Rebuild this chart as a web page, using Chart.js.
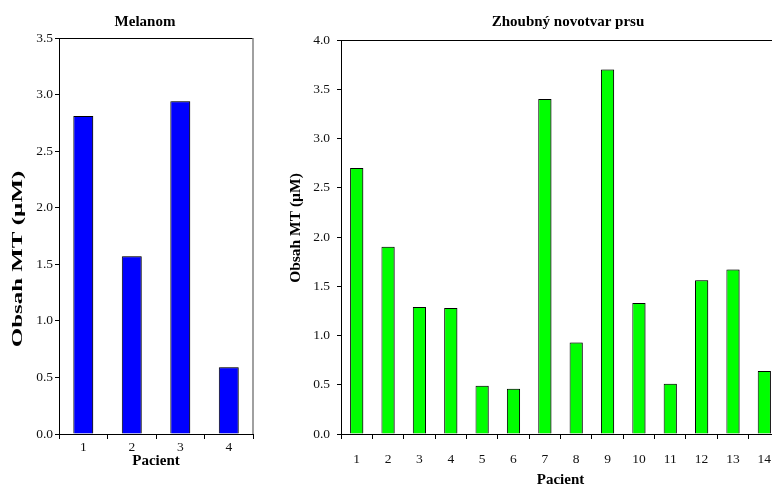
<!DOCTYPE html>
<html>
<head>
<meta charset="utf-8">
<script src="https://cdn.jsdelivr.net/npm/chart.js@4/dist/chart.umd.min.js"></script>
<style>
  html, body { margin: 0; padding: 0; background: #fff; }
  #stage { position: relative; width: 772px; height: 487px; overflow: hidden; background: #fff; }
  #melanomChart { position: absolute; left: 0; top: 0; }
  #prsuChart { position: absolute; left: 280px; top: 0; }
</style>
</head>
<body>
<div id="stage">
  <canvas id="melanomChart" width="290" height="487"></canvas>
  <canvas id="prsuChart" width="576" height="487"></canvas>
</div>
<script>
// data
const melanomPatients = ['1', '2', '3', '4'];
const melanomValues = [2.81, 1.57, 2.94, 0.59];
const melanomMax = 3.5;

const prsuPatients = ['1', '2', '3', '4', '5', '6', '7', '8', '9', '10', '11', '12', '13', '14'];
const prsuValues = [2.70, 1.90, 1.29, 1.28, 0.49, 0.46, 3.40, 0.93, 3.70, 1.33, 0.51, 1.56, 1.67, 0.64];
const prsuMax = 4.0;

const yStep = 0.5;
const serif = "'Liberation Serif', 'Times New Roman', serif";

// free-placed captions (chart title + rotated y-axis caption)
const captions = {
  id: 'captions',
  afterDraw(chart, args, opts){
    const ctx = chart.ctx;
    (opts.items || []).forEach(it => {
      ctx.save();
      ctx.translate(it.x, it.y);
      if(it.rotate) ctx.rotate(it.rotate);
      ctx.scale(it.stretch || 1, 1);
      ctx.font = `bold ${it.size}px ${serif}`;
      ctx.fillStyle = '#000';
      ctx.textAlign = 'center';
      ctx.textBaseline = 'middle';
      ctx.fillText(it.text, 0, 0);
      ctx.restore();
    });
  }
};

// top and right edge of the plot box
const plotFrame = {
  id: 'plotFrame',
  afterDatasetsDraw(chart){
    const {ctx, chartArea: a} = chart;
    ctx.save();
    ctx.lineWidth = 1;
    ctx.strokeStyle = '#000';
    ctx.beginPath();
    ctx.moveTo(a.left, a.top + 0.5);
    ctx.lineTo(a.right, a.top + 0.5);
    ctx.stroke();
    ctx.strokeStyle = '#808080';
    ctx.lineWidth = 1.5;
    ctx.beginPath();
    ctx.moveTo(a.right, a.top);
    ctx.lineTo(a.right, a.bottom);
    ctx.stroke();
    ctx.restore();
  }
};

// thin grey shadow on the right side of each bar
const barShadow = {
  id: 'barShadow',
  beforeDatasetsDraw(chart){
    const ctx = chart.ctx;
    ctx.save();
    ctx.shadowColor = 'rgba(0,0,0,0.35)';
    ctx.shadowOffsetX = 1.5;
    ctx.shadowOffsetY = 0;
    ctx.shadowBlur = 0;
  },
  afterDatasetsDraw(chart){
    chart.ctx.restore();
  }
};

function buildChart(canvasId, cfg){
  const ctx = document.getElementById(canvasId).getContext('2d');
  return new Chart(ctx, {
    type: 'bar',
    data: {
      labels: cfg.labels,
      datasets: [{
        data: cfg.values,
        backgroundColor: cfg.color,
        borderColor: '#000',
        borderWidth: 1,
        barPercentage: cfg.barPct,
        categoryPercentage: 1
      }]
    },
    options: {
      responsive: false,
      animation: false,
      devicePixelRatio: 1,
      layout: { padding: { left: 0, right: cfg.padRight, top: cfg.padTop, bottom: 0 } },
      plugins: {
        legend: { display: false },
        tooltip: { enabled: false },
        title: { display: false },
        captions: { items: cfg.captions }
      },
      scales: {
        x: {
          offset: true,
          grid: { offset: true, drawOnChartArea: false, tickLength: 5, color: '#000' },
          border: { color: '#000', width: 1 },
          ticks: { color: '#111', padding: cfg.xTickPad, font: { family: serif, size: 13.5 } },
          title: {
            display: true,
            text: 'Pacient',
            color: '#000',
            font: { family: serif, size: 15, weight: 'bold', lineHeight: 1.2 },
            padding: { top: 0, bottom: cfg.xTitlePad }
          },
          afterFit(scale){ scale.height = 53; }
        },
        y: {
          min: 0,
          max: cfg.max,
          grid: { drawOnChartArea: false, tickLength: 4, color: '#000' },
          border: { color: '#000', width: 1 },
          ticks: {
            stepSize: yStep,
            color: '#111',
            padding: cfg.yTickPad,
            font: { family: serif, size: 13.5 },
            callback: v => Number(v).toFixed(1)
          },
          afterFit(scale){ scale.width = cfg.yWidth; }
        }
      }
    },
    plugins: [barShadow, plotFrame, captions]
  });
}

buildChart('melanomChart', {
  labels: melanomPatients,
  values: melanomValues,
  max: melanomMax,
  color: '#0000ff',
  barPct: 0.41,
  padRight: 37,
  padTop: 38,
  yWidth: 59,
  yTickPad: 2,
  xTickPad: 0,
  xTitlePad: 17,
  captions: [
    { text: 'Melanom', x: 145, y: 22, size: 15 },
    { text: 'Obsah MT (µM)', x: 18.5, y: 259, size: 14.5, stretch: 1.72, rotate: -Math.PI / 2 }
  ]
});

buildChart('prsuChart', {
  labels: prsuPatients,
  values: prsuValues,
  max: prsuMax,
  color: '#00ff00',
  barPct: 0.42,
  padRight: 76,
  padTop: 40,
  yWidth: 61,
  yTickPad: 7,
  xTickPad: 12,
  xTitlePad: -2.5,
  captions: [
    { text: 'Zhoubný novotvar prsu', x: 288, y: 22, size: 15 },
    { text: 'Obsah MT (µM)', x: 16, y: 228, size: 15.5, rotate: -Math.PI / 2 }
  ]
});
</script>
</body>
</html>
